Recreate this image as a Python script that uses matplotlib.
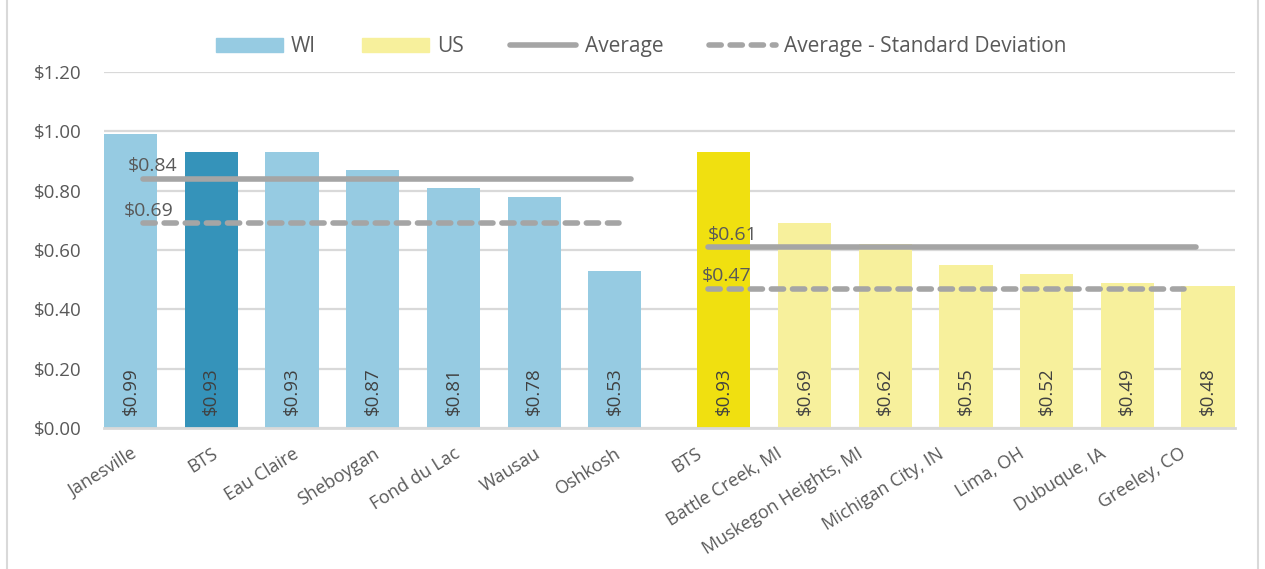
import matplotlib.pyplot as plt
import matplotlib.transforms as mtransforms
from matplotlib.patches import Patch
from matplotlib.lines import Line2D

plt.rcParams['font.family'] = ['Open Sans', 'DejaVu Sans']

# Dati
wi_citta = ['Janesville', 'BTS', 'Eau Claire', 'Sheboygan', 'Fond du Lac', 'Wausau', 'Oshkosh']
wi_valori = [0.99, 0.93, 0.93, 0.87, 0.81, 0.78, 0.53]
us_citta = ['BTS', 'Battle Creek, MI', 'Muskegon Heights, MI', 'Michigan City, IN',
            'Lima, OH', 'Dubuque, IA', 'Greeley, CO']
us_valori = [0.93, 0.69, 0.62, 0.55, 0.52, 0.49, 0.48]
wi_media = 0.84
wi_media_sd = 0.69
us_media = 0.61
us_media_sd = 0.47
y_ticks = [0.0, 0.2, 0.4, 0.6, 0.8, 1.0, 1.2]

# Colori
c_wi = '#96cbe2'
c_wi_bts = '#3593ba'
c_us = '#f7f09c'
c_us_bts = '#f0e010'
c_grigio = '#a5a5a5'
c_testo = '#595959'

fig = plt.figure(figsize=(12.65, 5.69), dpi=100)
ax = fig.add_axes([0.0822, 0.2478, 0.976 - 0.0822, 0.8735 - 0.2478])

x_wi = list(range(len(wi_citta)))
x_us = [7.35 + i for i in range(len(us_citta))]
w = 0.66

col_wi = [c_wi_bts if c == 'BTS' else c_wi for c in wi_citta]
col_us = [c_us_bts if c == 'BTS' else c_us for c in us_citta]
ax.bar(x_wi, wi_valori, width=w, color=col_wi, zorder=2)
ax.bar(x_us, us_valori, width=w, color=col_us, zorder=2)

# Etichette valori dentro le barre
for x, v in zip(x_wi + x_us, wi_valori + us_valori):
    ax.text(x, 0.045, f'${v:.2f}', rotation=90, ha='center', va='bottom',
            fontsize=13.5, color='#404040', zorder=3)

# Linee media
lw = 4
tratteggio = (0, (2.2, 1.6))
ax.plot([0.15, 6.2], [wi_media, wi_media], color=c_grigio, lw=lw,
        solid_capstyle='round', zorder=4)
ax.plot([0.15, 6.05], [wi_media_sd, wi_media_sd], color=c_grigio, lw=lw,
        ls=tratteggio, dash_capstyle='round', zorder=4)
ax.plot([7.15, 13.2], [us_media, us_media], color=c_grigio, lw=lw,
        solid_capstyle='round', zorder=4)
ax.plot([7.15, 13.05], [us_media_sd, us_media_sd], color=c_grigio, lw=lw,
        ls=tratteggio, dash_capstyle='round', zorder=4)

ax.text(-0.04, wi_media + 0.025, f'${wi_media:.2f}', fontsize=14, color=c_testo, zorder=5)
ax.text(-0.09, wi_media_sd + 0.025, f'${wi_media_sd:.2f}', fontsize=14, color=c_testo, zorder=5)
ax.text(7.15, us_media + 0.025, f'${us_media:.2f}', fontsize=14, color=c_testo, zorder=5)
ax.text(7.08, us_media_sd + 0.025, f'${us_media_sd:.2f}', fontsize=14, color=c_testo, zorder=5)

# Assi
ax.set_xlim(-0.33, 13.68)
ax.set_ylim(0, 1.2)
ax.set_yticks(y_ticks)
ax.set_yticklabels([f'${t:.2f}' for t in y_ticks], fontsize=13.5, color=c_testo)
# etichette categorie a passo regolare (come in Excel)
ax.set_xticks(range(len(wi_citta) + len(us_citta)))
ax.set_xticklabels(wi_citta + us_citta, rotation=32, ha='right',
                   rotation_mode='anchor', fontsize=13, color=c_testo)
sposta = mtransforms.ScaledTranslation(17 / 100, 0, fig.dpi_scale_trans)
for lab in ax.get_xticklabels():
    lab.set_transform(lab.get_transform() + sposta)
ax.tick_params(axis='both', length=0)
ax.tick_params(axis='y', pad=16)
ax.tick_params(axis='x', pad=12)
ax.grid(axis='y', color='#d9d9d9', lw=1.6, zorder=0)
for s in ['top', 'right', 'left']:
    ax.spines[s].set_visible(False)
ax.spines['bottom'].set_color('#d9d9d9')
ax.spines['bottom'].set_linewidth(2)

# Legenda
handles = [
    Patch(color=c_wi, label='WI'),
    Patch(color=c_us, label='US'),
    Line2D([], [], color=c_grigio, lw=lw, solid_capstyle='round', label='Average'),
    Line2D([], [], color=c_grigio, lw=lw, ls=tratteggio, dash_capstyle='round',
           label='Average - Standard Deviation'),
]
leg = fig.legend(handles=handles, loc='center', bbox_to_anchor=(0.507, 0.918), ncol=4,
                 frameon=False, fontsize=15, handlelength=3.2, columnspacing=2.2,
                 handletextpad=0.4)
for t in leg.get_texts():
    t.set_color(c_testo)

# Bordo grafico
fig.add_artist(Line2D([7 / 1265, 7 / 1265], [0, 1], color='#d9d9d9', lw=1.5))
fig.add_artist(Line2D([1258 / 1265, 1258 / 1265], [0, 1], color='#d9d9d9', lw=1.5))

plt.savefig('out.png', dpi=100)
